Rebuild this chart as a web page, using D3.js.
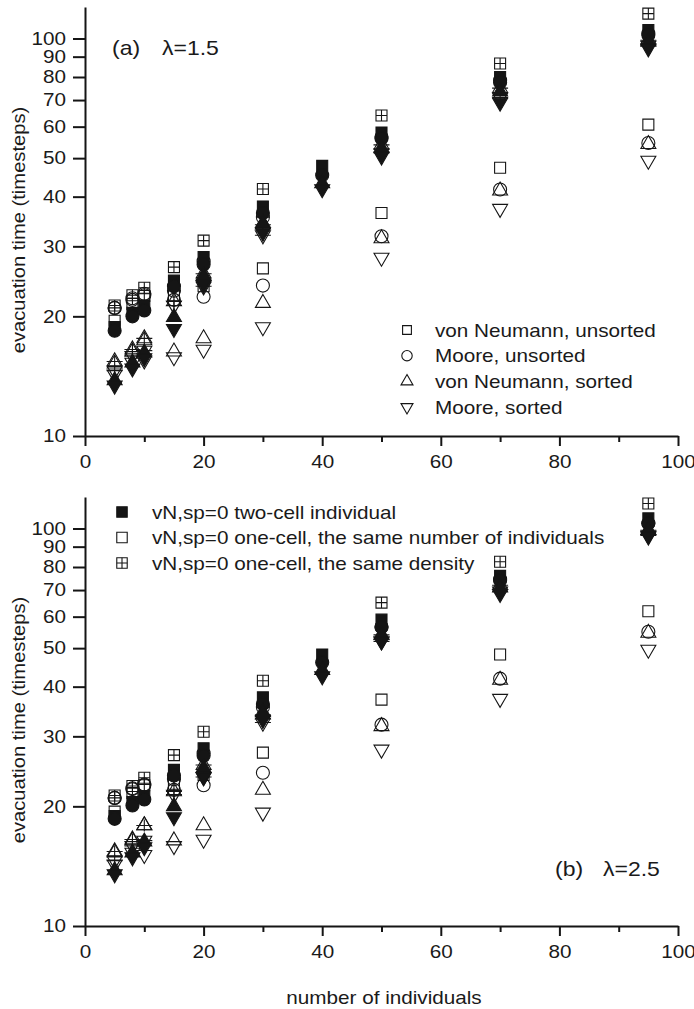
<!DOCTYPE html>
<html>
<head>
<meta charset="utf-8">
<script src="https://cdn.jsdelivr.net/npm/d3@7"></script>
<style>
  body { margin: 0; background: #fff; }
  svg text { font-family: "Liberation Sans", Arial, sans-serif; fill: #1a1a1a; }
</style>
</head>
<body>
<svg id="chart" width="694" height="1009"></svg>
<script>
// number of individuals
const xValues = [5, 8, 10, 15, 20, 30, 40, 50, 70, 95];

const xMajorTicks = [0, 20, 40, 60, 80, 100];
const xMinorTicks = [10, 30, 50, 70, 90];
const yTicks = [10, 20, 30, 40, 50, 60, 70, 80, 90, 100];

// (a) lambda = 1.5
// open = one-cell, same number of individuals
const aOpenSquare = [19.5, 21.5, 22.5, 22.6, 23.8, 26.4, null, 36.4, 47.3, 60.7];
const aOpenCircle = [21.0, 22.0, 22.6, 22.0, 22.4, 23.9, null, 31.8, 41.7, 54.6];
const aOpenUp     = [15.2, 16.3, 17.4, 16.3, 17.6, 21.6, null, 31.4, 41.4, 54.2];
const aOpenDown   = [14.3, 15.3, 15.5, 15.8, 16.5, 18.8, null, 28.1, 37.3, 49.3];
// filled = two-cell individual
const aFilledSquare = [18.8, 20.4, 21.3, 24.6, 28.2, 37.8, 47.8, 58.0, 80.0, 105];
const aFilledCircle = [18.4, 20.0, 20.7, 23.8, 27.0, 36.4, 45.3, 56.0, 77.5, 102];
const aFilledUp     = [13.8, 15.3, 16.2, 19.9, 25.3, 34.3, 43.2, 53.0, 73.5, 98];
const aFilledDown   = [13.4, 14.8, 15.7, 18.6, 24.0, 32.5, 41.8, 50.5, 69.0, 94.5];
// crossed = one-cell, same density
const aCrossSquare = [21.3, 22.6, 23.6, 26.6, 31.0, 41.8, null, 64.0, 86.5, 115.5];
const aCrossCircle = [21.0, 22.2, 22.8, 23.2, 27.5, 35.5, null, 56.5, 78.5, 103];
const aCrossUp     = [15.4, 16.5, 17.6, 21.8, 25.6, 34.0, null, 54.0, 75.0, 99];
const aCrossDown   = [14.6, 15.9, 16.4, 21.3, 23.8, 32.0, null, 51.5, 71.0, 96];

// (b) lambda = 2.5
const bOpenSquare = [19.4, 21.6, 22.6, 22.8, 24.0, 27.3, null, 37.1, 48.2, 61.9];
const bOpenCircle = [21.0, 22.1, 22.6, 22.0, 22.6, 24.3, null, 32.1, 41.9, 55.0];
const bOpenUp     = [15.3, 16.4, 17.9, 16.4, 17.9, 22.0, null, 31.8, 41.6, 54.6];
const bOpenDown   = [14.3, 15.3, 15.1, 15.9, 16.5, 19.3, null, 27.8, 37.3, 49.6];
const bFilledSquare = [18.9, 20.5, 21.2, 24.7, 28.0, 37.6, 48.2, 59.0, 76.0, 106];
const bFilledCircle = [18.6, 20.1, 20.8, 23.9, 26.8, 36.2, 46.0, 56.5, 74.0, 103];
const bFilledUp     = [13.8, 15.3, 16.3, 20.0, 25.0, 34.5, 44.0, 54.0, 71.0, 99];
const bFilledDown   = [13.5, 14.9, 15.8, 18.8, 23.7, 33.0, 42.5, 52.0, 68.5, 95.5];
const bCrossSquare = [21.3, 22.5, 23.6, 26.9, 30.8, 41.4, null, 65.1, 82.5, 115.6];
const bCrossCircle = [21.0, 22.2, 22.7, 23.4, 27.2, 35.5, null, 56.5, 74.5, 103];
const bCrossUp     = [15.4, 16.5, 17.9, 21.8, 25.4, 34.0, null, 54.0, 72.0, 99];
const bCrossDown   = [14.6, 15.9, 16.4, 21.4, 23.7, 32.5, null, 52.0, 69.5, 96];

const legendA = ["von Neumann, unsorted", "Moore, unsorted", "von Neumann, sorted", "Moore, sorted"];
const legendB = ["vN,sp=0 two-cell individual",
                 "vN,sp=0 one-cell, the same number of individuals",
                 "vN,sp=0 one-cell, the same density"];

const ink = "#151515";
const sx = 1.15; // the figure's type is set a little wider than Arial

const svg = d3.select("#chart");
const x = d3.scaleLinear().domain([0, 100]).range([85, 678]);

// marker path for a shape, centred on 0,0
function shapePath(shape, k) {
  k = k || 1;
  if (shape === "square") return d3.symbol(d3.symbolSquare, 121 * k * k)();
  if (shape === "circle") return d3.symbol(d3.symbolCircle, 133 * k * k)();
  return d3.symbol(d3.symbolTriangle, 97 * k * k)();
}
function crossPath(shape, k) {
  k = k || 1;
  let r = shape === "square" ? 5.5 : shape === "circle" ? 6.5 : 8;
  let v = shape === "square" ? 5.5 : shape === "circle" ? 6.5 : 6;
  r *= k; v *= k;
  return `M${-r},0H${r}M0,${-v}V${v}`;
}

function drawMarker(g, shape, style, k) {
  const rot = shape === "down" ? "rotate(180)" : null;
  g.append("path")
    .attr("d", shapePath(shape, k))
    .attr("transform", rot)
    .attr("fill", style === "filled" ? ink : "none")
    .attr("stroke", ink)
    .attr("stroke-width", 1.1);
  if (style === "cross") {
    g.append("path")
      .attr("d", crossPath(shape, k))
      .attr("transform", rot)
      .attr("stroke", ink)
      .attr("stroke-width", 1.1);
  }
}

function drawPanel(top, series, label, labelY) {
  const y = d3.scaleLog().domain([10, 120]).range([top + 429, top]);
  const y0 = top + 429;

  // minor x ticks
  const minor = svg.append("g")
    .attr("transform", `translate(0,${y0})`)
    .call(d3.axisBottom(x).tickValues(xMinorTicks).tickSize(6).tickFormat(""));
  minor.select(".domain").remove();

  const xa = svg.append("g")
    .attr("transform", `translate(0,${y0})`)
    .call(d3.axisBottom(x).tickValues(xMajorTicks).tickSize(10).tickPadding(9).tickSizeOuter(0));
  xa.selectAll("text").attr("transform", `scale(${sx},1)`);

  const ya = svg.append("g")
    .attr("transform", "translate(85,0)")
    .call(d3.axisLeft(y).tickValues(yTicks).tickSize(12).tickPadding(7)
      .tickFormat(d3.format("d")).tickSizeOuter(0));
  ya.selectAll("text").attr("x", -19 / sx).attr("transform", `scale(${sx},1)`);

  svg.selectAll(".tick line, .domain").attr("stroke", ink).attr("stroke-width", 2);
  [minor, xa, ya].forEach(a => a.attr("font-size", 18).attr("font-family", null));
  svg.selectAll(".tick text").attr("fill", "#1a1a1a");

  // y title
  svg.append("text")
    .attr("transform", `translate(25,${top + 223}) rotate(-90) scale(1.12,1)`)
    .attr("text-anchor", "middle")
    .attr("font-size", 18)
    .text("evacuation time (timesteps)");

  // points: open first, then crossed, then filled on top
  ["open", "cross", "filled"].forEach(style => {
    series.filter(s => s.style === style).forEach(s => {
      xValues.forEach((xv, i) => {
        const v = s.values[i];
        if (v == null) return;
        const g = svg.append("g").attr("transform", `translate(${x(xv)},${y(v)})`);
        drawMarker(g, s.shape, s.style, 1);
      });
    });
  });

  // panel label
  svg.append("text")
    .attr("transform", `translate(${label.x1},${labelY + 7}) scale(${sx},1)`)
    .attr("font-size", 20)
    .text(label.a);
  svg.append("text")
    .attr("transform", `translate(${label.x2},${labelY + 7}) scale(${sx},1)`)
    .attr("font-size", 20)
    .text(label.b);
}

function buildSeries(os, oc, ou, od, fs, fc, fu, fd, cs, cc, cu, cd) {
  return [
    { shape: "square", style: "open", values: os },
    { shape: "circle", style: "open", values: oc },
    { shape: "up", style: "open", values: ou },
    { shape: "down", style: "open", values: od },
    { shape: "square", style: "cross", values: cs },
    { shape: "circle", style: "cross", values: cc },
    { shape: "up", style: "cross", values: cu },
    { shape: "down", style: "cross", values: cd },
    { shape: "square", style: "filled", values: fs },
    { shape: "circle", style: "filled", values: fc },
    { shape: "up", style: "filled", values: fu },
    { shape: "down", style: "filled", values: fd }
  ];
}

drawPanel(7, buildSeries(aOpenSquare, aOpenCircle, aOpenUp, aOpenDown,
                         aFilledSquare, aFilledCircle, aFilledUp, aFilledDown,
                         aCrossSquare, aCrossCircle, aCrossUp, aCrossDown),
          { a: "(a)", b: "\u03bb=1.5", x1: 112, x2: 162 }, 48);
drawPanel(497, buildSeries(bOpenSquare, bOpenCircle, bOpenUp, bOpenDown,
                           bFilledSquare, bFilledCircle, bFilledUp, bFilledDown,
                           bCrossSquare, bCrossCircle, bCrossUp, bCrossDown),
          { a: "(b)", b: "\u03bb=2.5", x1: 555, x2: 603 }, 869);

// legend (a)
const legA = svg.append("g");
const shapesA = ["square", "circle", "up", "down"];
legendA.forEach((t, i) => {
  const ly = 330 + i * 25.7;
  drawMarker(legA.append("g").attr("transform", `translate(407,${ly})`), shapesA[i], "open", 0.8);
  legA.append("text")
    .attr("transform", `translate(435,${ly + 6.5}) scale(${sx},1)`)
    .attr("font-size", 18)
    .text(t);
});

// legend (b)
const legB = svg.append("g");
const stylesB = ["filled", "open", "cross"];
legendB.forEach((t, i) => {
  const ly = 512 + i * 25.5;
  drawMarker(legB.append("g").attr("transform", `translate(122,${ly})`), "square", stylesB[i], 0.95);
  legB.append("text")
    .attr("transform", `translate(152,${ly + 6.5}) scale(${sx},1)`)
    .attr("font-size", 18)
    .text(t);
});

// x title
svg.append("text")
  .attr("transform", `translate(384,1004) scale(${sx},1)`)
  .attr("text-anchor", "middle")
  .attr("font-size", 18)
  .text("number of individuals");
</script>
</body>
</html>
